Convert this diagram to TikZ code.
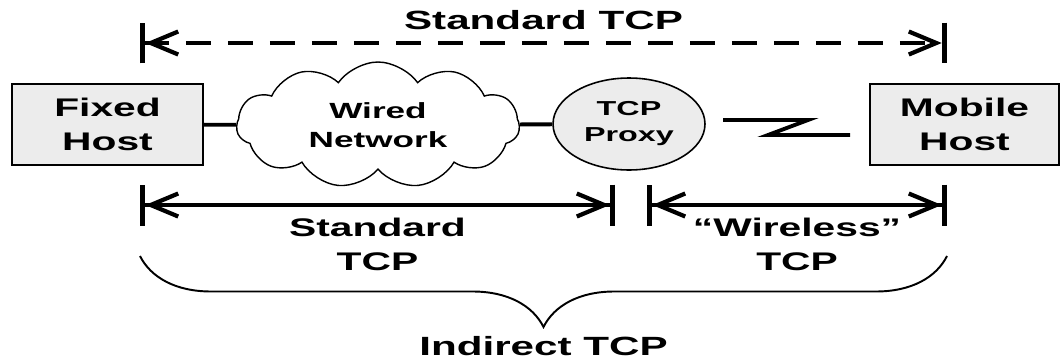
\documentclass[tikz,border=0pt]{standalone}
\usepackage{fontspec}
\setmainfont{Liberation Sans}[FakeStretch=1.6]
\usetikzlibrary{arrows.meta,positioning,shapes.symbols,shapes.geometric,decorations.pathreplacing}

\begin{document}
\begin{tikzpicture}[
    x = 0.02cm, y = -0.02cm,
    font = \bfseries\fontsize{14.5}{19.4}\selectfont,
    host/.style = {draw, line width=1.1pt, fill=gray!15, align=center,
      minimum height=1.62cm},
    net/.style = {draw, cloud, cloud puffs=11, cloud puff arc=110, aspect=2.25,
      line width=0.8pt, minimum width=5.66cm, minimum height=2.52cm,
      align=center, font=\bfseries\fontsize{12.5}{16.5}\selectfont},
    prx/.style = {draw, ellipse, line width=0.9pt, fill=gray!15, align=center,
      minimum width=3.04cm, minimum height=1.84cm,
      font=\bfseries\fontsize{11.5}{14.8}\selectfont},
    wire/.style = {line width=2.2pt},
    span/.style = {line width=2.4pt,
      {Bar[width=.82cm,line width'=3pt]Straight Barb[length=.55cm,width=.46cm]}-{Straight Barb[length=.55cm,width=.46cm]Bar[width=.82cm,line width'=3pt]}},
    brc/.style = {decorate, decoration={brace, mirror, amplitude=1.42cm},
      line width=1.1pt},
    lbl/.style = {align=center, inner sep=0pt},
  ]
  \useasboundingbox (0,0) rectangle (1060,362);

  % hosts, network and proxy
  \node[host, minimum width=3.82cm] (fixed) at (107.5,124.5) {Fixed\\Host};
  \node[net] (wired) at (378,125) {Wired\\Network};
  \node[prx] (proxy) at (629,124) {TCP\\Proxy};
  \node[host, minimum width=3.78cm] (mobile) at (964.5,124.5) {Mobile\\Host};

  \draw[wire] (fixed) -- (wired);
  \draw[wire] (wired) -- (proxy);
  % wireless hop
  \draw[wire] (723,120) -- (808,120) -- (768,135) -- (850,135);

  % spans
  \coordinate (e2eL) at (140,43);
  \coordinate (e2eR) at (947,43);
  \coordinate (fixL) at (140,205);
  \coordinate (fixR) at (615,205);
  \coordinate (wlsL) at (647,205);
  \coordinate (wlsR) at (947,205);

  \draw[span, dash pattern=on 0.5cm off 0.34cm] (e2eL) -- node[lbl, above=0.22cm,
    font=\bfseries\fontsize{15}{19}\selectfont] {Standard TCP} (e2eR);
  \draw[span] (fixL) -- node[lbl, below=0.22cm] {Standard\\TCP} (fixR);
  \draw[span] (wlsL) -- node[lbl, below=0.22cm] {“Wireless”\\TCP} (wlsR);

  \draw[brc] (140,256) -- node[lbl, below=1.58cm,
    font=\bfseries\fontsize{15}{19}\selectfont] {Indirect TCP} (947,256);
\end{tikzpicture}
\end{document}
